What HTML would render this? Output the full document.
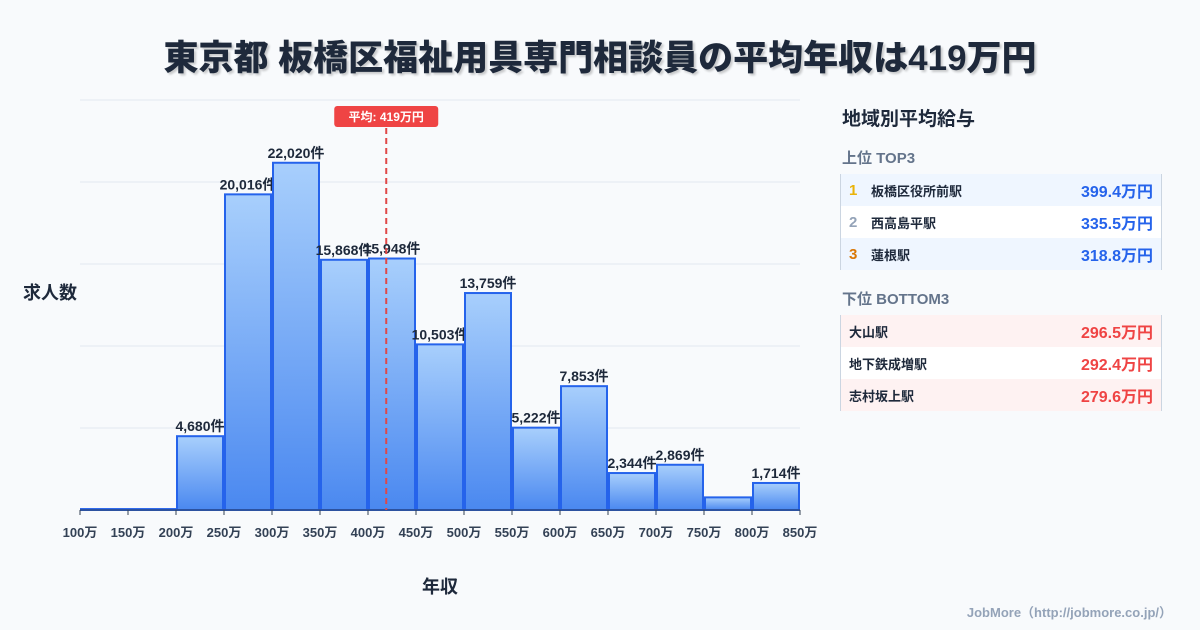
<!DOCTYPE html>
<html><head><meta charset="utf-8">
<style>
body{margin:0;background:#f8fafc;font-family:"Liberation Sans","Noto Sans CJK JP",sans-serif;}
#wrap{position:relative;width:1200px;height:630px;overflow:hidden;background:#f8fafc;}
.title{position:absolute;left:0;width:1200px;top:30px;text-align:center;font-size:35px;font-weight:900;color:#1e293b;text-shadow:2px 2px 2px rgba(0,0,0,0.2);}
.panel{position:absolute;left:840px;top:100px;width:322px;}
.ph{font-size:19px;font-weight:700;color:#1e293b;margin:4px 0 0 2px;}
.sh{font-size:15px;font-weight:700;color:#64748b;margin:18px 0 6px 2px;}
.tbl{border-left:1px solid #cbd5e1;border-right:1px solid #cbd5e1;}
.row{height:32px;display:flex;align-items:center;font-size:13px;font-weight:700;color:#1e293b;padding:0 8px;}
.row .rk{width:22px;font-size:15px;}
.row .v{margin-left:auto;font-size:16px;}
.footer{position:absolute;right:28px;top:602px;font-size:13px;font-weight:700;color:#94a3b8;}
</style></head><body>
<div id="wrap">
<div class="title">東京都 板橋区福祉用具専門相談員の平均年収は419万円</div>
<svg id="chart" width="1200" height="630" style="position:absolute;left:0;top:0">
<defs><linearGradient id="g" x1="0" y1="0" x2="0" y2="1"><stop offset="0" stop-color="#a8cffc"/><stop offset="1" stop-color="#4a88f0"/></linearGradient></defs>
</svg>
<div class="panel">
<div class="ph">地域別平均給与</div>
<div class="sh" style="margin-top:16px">上位 TOP3</div>
<div class="tbl">
<div class="row" style="background:#eff6ff"><span class="rk" style="color:#eab308">1</span>板橋区役所前駅<span class="v" style="color:#2563eb">399.4万円</span></div>
<div class="row" style="background:#fff"><span class="rk" style="color:#94a3b8">2</span>西高島平駅<span class="v" style="color:#2563eb">335.5万円</span></div>
<div class="row" style="background:#eff6ff"><span class="rk" style="color:#d97706">3</span>蓮根駅<span class="v" style="color:#2563eb">318.8万円</span></div>
</div>
<div class="sh">下位 BOTTOM3</div>
<div class="tbl">
<div class="row" style="background:#fef2f2">大山駅<span class="v" style="color:#ef4444">296.5万円</span></div>
<div class="row" style="background:#fff">地下鉄成増駅<span class="v" style="color:#ef4444">292.4万円</span></div>
<div class="row" style="background:#fef2f2">志村坂上駅<span class="v" style="color:#ef4444">279.6万円</span></div>
</div>
</div>
<div class="footer">JobMore（http://jobmore.co.jp/）</div>
</div>
<script>
const binStarts=[100,150,200,250,300,350,400,450,500,550,600,650,700,750,800];
const counts=[60,60,4680,20016,22020,15868,15948,10503,13759,5222,7853,2344,2869,800,1714];
const showLabel=[false,false,true,true,true,true,true,true,true,true,true,true,true,false,true];
const tickLabels=["100万","150万","200万","250万","300万","350万","400万","450万","500万","550万","600万","650万","700万","750万","800万","850万"];
const meanValue=419;
const yMax=26000;
const svg=document.getElementById('chart');
const NS='http://www.w3.org/2000/svg';
const X0=80,X1=800,Y0=510,Y1=100;
const xs=v=>X0+(v-100)/(850-100)*(X1-X0);
const ys=v=>Y0-v/yMax*(Y0-Y1);
function mk(t,a){const e=document.createElementNS(NS,t);for(const k in a)e.setAttribute(k,a[k]);svg.appendChild(e);return e;}
for(let i=0;i<5;i++){const y=Y1+i*(Y0-Y1)/5;
const g=mk('line',{x1:X0,x2:X1,y1:y,y2:y,stroke:'#e2e8f0','stroke-width':1});

}
counts.forEach((c,i)=>{const x=xs(binStarts[i]),w=xs(binStarts[i]+50)-x;const y=ys(c);
const r=mk('rect',{x:x+1,y:y,width:w-2,height:Y0-y,fill:'url(#g)',stroke:'#2563eb','stroke-width':2});


if(showLabel[i]){const t=mk('text',{x:x+w/2,y:y-5,'text-anchor':'middle','font-size':14,'font-weight':700,fill:'#1e293b'});
t.textContent=c.toLocaleString('en-US')+'件';

}});
const ax=mk('line',{x1:X0,x2:X1,y1:Y0,y2:Y0,stroke:'#334155','stroke-width':1});


tickLabels.forEach((l,i)=>{const x=xs(100+i*50);
const tk=mk('line',{x1:x,x2:x,y1:Y0,y2:Y0+5,stroke:'#334155'});


const t=mk('text',{x:x,y:Y0+27,'text-anchor':'middle','font-size':13,'font-weight':700,fill:'#334155'});
t.textContent=l;

});
const mx=xs(meanValue);
const ml=mk('line',{x1:mx,x2:mx,y1:128,y2:Y0,stroke:'#e04848','stroke-width':2,'stroke-dasharray':'6,4'});


const mb=mk('rect',{x:mx-52,y:106,width:104,height:21,rx:3,fill:'#ef4444'});


const mt=mk('text',{x:mx,y:121,'text-anchor':'middle','font-size':12,'font-weight':700,fill:'#fff'});
mt.textContent='平均: '+meanValue+'万円';


const yt=mk('text',{x:50,y:299,'text-anchor':'middle','font-size':18,'font-weight':700,fill:'#1e293b'});
yt.textContent='求人数';


const xt=mk('text',{x:440,y:593,'text-anchor':'middle','font-size':18,'font-weight':700,fill:'#1e293b'});
xt.textContent='年収';


</script>
</body></html>
